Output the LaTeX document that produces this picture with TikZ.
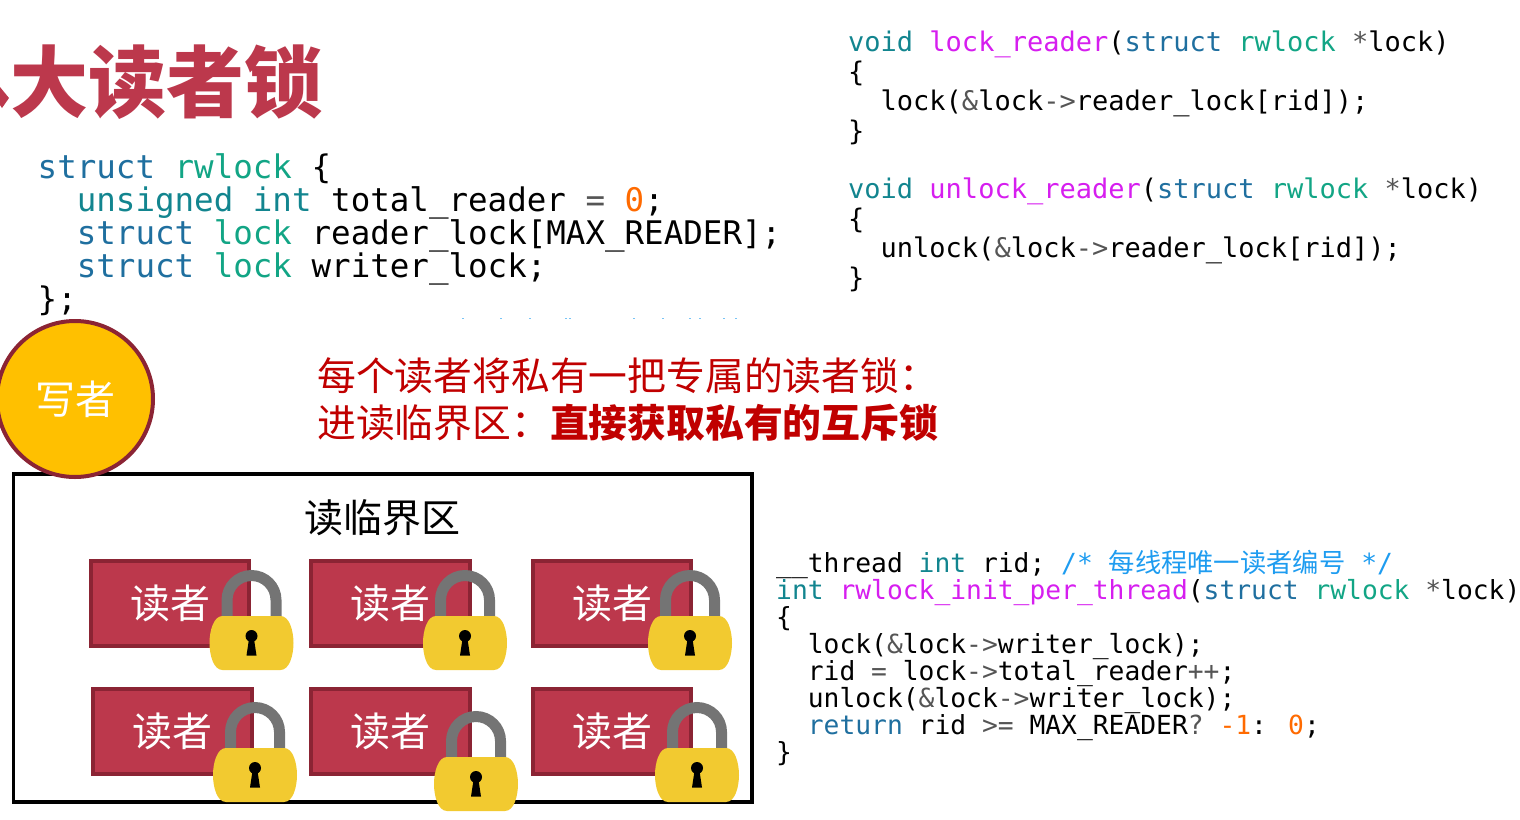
\documentclass[tikz,border=0pt]{standalone}
\usepackage{fontspec}
\setmainfont{Noto Sans CJK SC}
\newfontfamily\codefont{DejaVu Sans Mono}
\newfontfamily\cjkfont{Noto Sans CJK SC}
\definecolor{maintitle}{HTML}{BC384C}
\definecolor{boxedge}{HTML}{8B2434}
\definecolor{kwblue}{HTML}{1F6F9F}
\definecolor{kwteal}{HTML}{12858F}
\definecolor{typegreen}{HTML}{12A585}
\definecolor{funcpink}{HTML}{D61EEF}
\definecolor{numorange}{HTML}{FF6A00}
\definecolor{opgray}{HTML}{555555}
\definecolor{notered}{HTML}{C00000}
\definecolor{cmtblue}{HTML}{1E9CF0}
\definecolor{writerfill}{HTML}{FFC000}
\definecolor{lockgray}{HTML}{747474}
\definecolor{lockyellow}{HTML}{F2CA30}
\newcommand{\kw}[1]{\textcolor{kwblue}{#1}}
\newcommand{\kt}[1]{\textcolor{kwteal}{#1}}
\newcommand{\ty}[1]{\textcolor{typegreen}{#1}}
\newcommand{\fn}[1]{\textcolor{funcpink}{#1}}
\newcommand{\nm}[1]{\textcolor{numorange}{#1}}
\newcommand{\op}[1]{\textcolor{opgray}{#1}}
\newcommand{\ind}{\phantom{xx}}
\begin{document}
\begin{tikzpicture}
		[x=1pt,y=-1pt,
		code/.style={inner sep=0pt,anchor=north west,align=left},
		reader/.style={draw=boxedge,fill=maintitle,line width=4pt,minimum width=158.5pt,minimum height=85pt,inner sep=0pt,text=white,font=\fontsize{40}{40}\selectfont},
		padlock/.pic={
			\draw [line width=11pt,color=lockgray] (-24.5,-25) -- (-24.5,-43) arc [start angle=180,end angle=360,radius=24.5] -- (24.5,-25);
			\fill [lockyellow] (-29,-27) -- (29,-27) .. controls (38,-27) and (42,-12) .. (42,0) .. controls (42,12) and (38,27) .. (29,27) -- (-29,27) .. controls (-38,27) and (-42,12) .. (-42,0) .. controls (-42,-12) and (-38,-27) .. (-29,-27) -- cycle;
			\fill (0,-7) circle [radius=6];
			\fill (-2.5,-4) -- (2.5,-4) -- (5,12.5) -- (-5,12.5) -- cycle;
		}]
		\useasboundingbox (0,0) rectangle (1520,819);

		% draw the title
		\node (title) [inner sep=0pt,text=maintitle,font=\fontsize{78}{78}\selectfont\bfseries] at (166.5,82.5) {大读者锁};
		\fill [maintitle] (0,87) -- (9,98) -- (2,108) -- (0,105) -- cycle;

		% draw the code
		\node (rwstruct) [code,font=\fontsize{32.5}{33}\codefont] at (37.5,153) {\kw{struct} \ty{rwlock} \{\\
			\ind\kt{unsigned int} total\_reader \op{=} \nm{0};\\
			\ind\kw{struct} \ty{lock} reader\_lock[MAX\_READER];\\
			\ind\kw{struct} \ty{lock} writer\_lock;\\
			\};};
		\node (lockfn) [code,font=\fontsize{27}{29.5}\codefont] at (848,31) {\kt{void} \fn{lock\_reader}(\kw{struct} \ty{rwlock} \op{*}lock)\\
			\{\\
			\ind lock(\op{\&}lock\op{->}reader\_lock[rid]);\\
			\}};
		\node (unlockfn) [code,font=\fontsize{27}{29.5}\codefont] at (848,178) {\kt{void} \fn{unlock\_reader}(\kw{struct} \ty{rwlock} \op{*}lock)\\
			\{\\
			\ind unlock(\op{\&}lock\op{->}reader\_lock[rid]);\\
			\}};
		\node (initfn) [code,font=\fontsize{26.3}{26.9}\codefont] at (776,550.5) {\_\_thread \kt{int} rid; \textcolor{cmtblue}{/* {\cjkfont 每线程唯一读者编号} */}\\
			\kt{int} \fn{rwlock\_init\_per\_thread}(\kw{struct} \ty{rwlock} \op{*}lock)\\
			\{\\
			\ind lock(\op{\&}lock\op{->}writer\_lock);\\
			\ind rid \op{=} lock\op{->}total\_reader\op{++};\\
			\ind unlock(\op{\&}lock\op{->}writer\_lock);\\
			\ind\kw{return} rid \op{>=} MAX\_READER\op{?} \nm{-1}: \nm{0};\\
			\}};

		% the specks left of a cut off line
		\foreach \xspeck in {462,500,529,565,569,633,662,689,699,723,735}
			\fill [cmtblue!60] (\xspeck,317.5) rectangle ++(1.5,1);

		% draw the note
		\node (note) [code,text=notered,font=\fontsize{38.8}{47}\selectfont] at (317,357) {每个读者将私有一把专属的读者锁：\\
			进读临界区：{\bfseries 直接获取私有的互斥锁}};

		% draw the critical section
		\draw [line width=3.8pt] (13.5,474) rectangle (752,802);
		\node (section) [inner sep=0pt,font=\fontsize{39}{39}\selectfont] at (382,518) {读临界区};

		% draw the writer
		\node (writer) [circle,draw=boxedge,fill=writerfill,line width=4pt,minimum size=156pt,inner sep=0pt,text=white,font=\fontsize{40}{40}\selectfont] at (75,399) {写者};

		% draw the readers with their locks
		\node (readerA) [reader] at (170,603.5) {读者};
		\node (readerB) [reader] at (390.5,603.5) {读者};
		\node (readerC) [reader] at (612,603.5) {读者};
		\node (readerD) [reader] at (172.5,731.5) {读者};
		\node (readerE) [reader] at (390.5,731.5) {读者};
		\node (readerF) [reader] at (612,731.5) {读者};
		\pic at (251.5,643) {padlock};
		\pic at (465,643) {padlock};
		\pic at (690,643) {padlock};
		\pic at (255,775) {padlock};
		\pic at (476,784) {padlock};
		\pic at (697,775) {padlock};
	\end{tikzpicture}
\end{document}
